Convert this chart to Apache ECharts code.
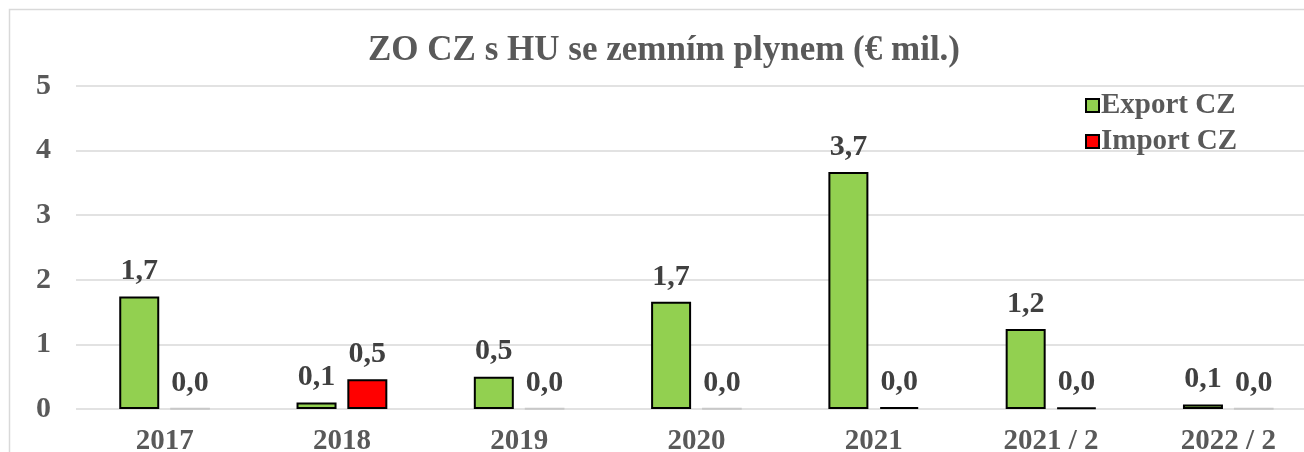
<!DOCTYPE html>
<html><head><meta charset="utf-8">
<script src="https://cdn.jsdelivr.net/npm/echarts@6/dist/echarts.min.js"></script>
<style>html,body{margin:0;padding:0;background:#fff}#c{width:1304px;height:452px}</style>
</head><body><div id="c"></div>
<script>
const categories = ['2017', '2018', '2019', '2020', '2021', '2021 / 2', '2022 / 2'];
const exportCZ = [1.74, 0.10, 0.50, 1.66, 3.67, 1.24, 0.07];
const importCZ = [0.005, 0.46, 0.005, 0.005, 0.03, 0.02, 0.005];
const yTicks = [0, 1, 2, 3, 4, 5];

const FONT = '"Liberation Serif", "Times New Roman", serif';
const fmt = v => v.toFixed(1).replace('.', ',');
const chart = echarts.init(document.getElementById('c'));
function mkData(arr) {
  return arr.map(v => v < 0.01 ? { value: v, itemStyle: { borderColor: '#c8c8c8' } } : v);
}
const labelCfg = {
  show: true, position: 'top', distance: 10,
  fontFamily: FONT, fontWeight: 'bold', fontSize: 30, color: '#404040',
  formatter: p => fmt(p.value)
};
chart.setOption({
  animation: false,
  graphic: [{ type: 'rect', shape: { x: 9.5, y: 9.5, width: 1400, height: 600 }, style: { fill: 'none', stroke: '#d9d9d9', lineWidth: 1.5 }, silent: true }],
  title: {
    text: 'ZO CZ s HU se zemním plynem (€ mil.)', left: 659, top: 28, textAlign: 'center',
    textStyle: { fontFamily: FONT, fontWeight: 'bold', fontSize: 35, color: '#595959' }
  },
  legend: {
    left: 1080, top: 86, orient: 'vertical', itemWidth: 13, itemHeight: 13, itemGap: 7,
    icon: 'rect',
    textStyle: { fontFamily: FONT, fontWeight: 'bold', fontSize: 29, color: '#595959', padding: [0, 0, 0, -3] },
    data: ['Export CZ', 'Import CZ']
  },
  grid: { left: 76, right: -13, top: 86, bottom: 43, containLabel: false, outerBoundsMode: 'none' },
  xAxis: {
    type: 'category', data: categories,
    axisLine: { show: false }, axisTick: { show: false },
    axisLabel: { fontFamily: FONT, fontWeight: 'bold', fontSize: 29, color: '#595959', margin: 18 }
  },
  yAxis: {
    type: 'value', min: yTicks[0], max: yTicks[yTicks.length - 1], interval: 1,
    axisLine: { show: false }, axisTick: { show: false },
    splitLine: { lineStyle: { color: '#d9d9d9', width: 1.5 } },
    axisLabel: { fontFamily: FONT, fontWeight: 'bold', fontSize: 30, color: '#595959', margin: 25 }
  },
  series: [
    { name: 'Export CZ', type: 'bar', data: mkData(exportCZ), barWidth: 40, barGap: '27%',
      itemStyle: { color: '#92D050', borderColor: '#000', borderWidth: 2 }, label: labelCfg },
    { name: 'Import CZ', type: 'bar', data: mkData(importCZ), barWidth: 40,
      itemStyle: { color: '#FF0000', borderColor: '#000', borderWidth: 2 }, label: labelCfg }
  ]
});
</script></body></html>
